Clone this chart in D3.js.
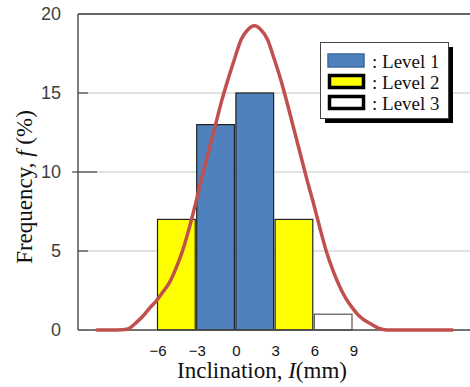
<!DOCTYPE html>
<html><head><meta charset="utf-8">
<script src="https://cdn.jsdelivr.net/npm/d3@7"></script>
<style>
body{margin:0;background:#fff}svg{display:block}
.serif{font-family:"Liberation Serif","Times New Roman",Times,serif}
.sans{font-family:"Liberation Sans",Arial,Helvetica,sans-serif}
</style>
</head><body>
<script>
// Data
const binStarts = [-6, -3, 0, 3, 6];
const binWidth = 3;
const frequencies = [7, 13, 15, 7, 1];
const levels = ["Level 2", "Level 1", "Level 1", "Level 2", "Level 3"];
const legendLabels = ["Level 1", "Level 2", "Level 3"];
const xTicks = [-6, -3, 0, 3, 6, 9];
const yTicks = [0, 5, 10, 15, 20];
const curveX = [-10.6, -9.05, -8.3, -7.55, -7.0, -6.55, -6.05, -5.55, -5.05, -4.55, -4.05, -3.55, -3.05, -2.55, -2.05, -1.55, -1.05, -0.55, -0.05, 0.45, 0.95, 1.45, 1.95, 2.45, 2.95, 3.45, 3.95, 4.45, 4.95, 5.45, 5.95, 6.45, 6.95, 7.45, 7.95, 8.45, 8.95, 9.45, 10.45, 11.0, 11.6, 13, 16.6];
const curveY = [0, 0, 0.05, 0.5, 0.95, 1.4, 1.85, 2.4, 3.0, 3.9, 5.0, 6.4, 8.0, 9.7, 11.3, 12.9, 14.5, 15.9, 17.2, 18.4, 19.0, 19.25, 19.0, 18.4, 17.2, 15.9, 14.4, 12.8, 11.2, 9.6, 8.1, 6.5, 5.0, 3.8, 2.8, 2.0, 1.4, 0.9, 0.35, 0.1, 0, 0, 0];

const W = 470, H = 387;
const colors = {"Level 1": "#4f81bd", "Level 2": "#ffff00", "Level 3": "#ffffff"};

const svg = d3.select("body").append("svg").attr("width", W).attr("height", H);
const x = d3.scaleLinear().domain([-6, 9]).range([157, 353]);
const y = d3.scaleLinear().domain([0, 20]).range([330, 14]);
const left = 78, right = 470;

// gridlines
svg.append("g").selectAll("line").data(yTicks.filter(d => d > 0 && d < 20)).join("line")
  .attr("x1", left).attr("x2", right).attr("y1", d => y(d)).attr("y2", d => y(d))
  .attr("stroke", "#d9d9d9").attr("stroke-width", 1.5);

// frame
svg.append("line").attr("x1", left).attr("x2", right).attr("y1", y(20)).attr("y2", y(20)).attr("stroke", "#333").attr("stroke-width", 1.5);
svg.append("line").attr("x1", left).attr("x2", left).attr("y1", y(20)).attr("y2", y(0)).attr("stroke", "#555").attr("stroke-width", 1.5);

// y tick marks
svg.append("g").selectAll("line").data([5, 10, 15]).join("line")
  .attr("x1", d => d === 10 ? left - 6 : left).attr("x2", d => d === 10 ? left + 19 : left + 10)
  .attr("y1", d => y(d)).attr("y2", d => y(d)).attr("stroke", "#444").attr("stroke-width", 1.2);

// y tick labels
svg.append("g").selectAll("text").data(yTicks).join("text").attr("class", "sans")
  .attr("x", 61).attr("y", d => y(d)).attr("dy", "0.36em").attr("text-anchor", "end")
  .attr("font-size", 18).attr("fill", "#404040")
  .text(d => d);

// bars
svg.append("g").selectAll("rect").data(binStarts).join("rect")
  .attr("x", d => x(d) + 0.5).attr("width", d => x(d + binWidth) - x(d) - 1.5)
  .attr("y", (d, i) => y(frequencies[i])).attr("height", (d, i) => y(0) - y(frequencies[i]))
  .attr("fill", (d, i) => colors[levels[i]])
  .attr("stroke", (d, i) => levels[i] === "Level 3" ? "#555" : "#222").attr("stroke-width", 1.2);

// x axis line
svg.append("line").attr("x1", left).attr("x2", right).attr("y1", y(0)).attr("y2", y(0)).attr("stroke", "#444").attr("stroke-width", 1.5);

// fit curve
const line = d3.line().x(d => x(d[0])).y(d => y(d[1])).curve(d3.curveMonotoneX);
svg.append("path").datum(curveX.map((v, i) => [v, curveY[i]]))
  .attr("d", line).attr("fill", "none").attr("stroke", "#c0504d").attr("stroke-width", 3.5).attr("stroke-linecap", "round");

// x tick labels
svg.append("g").selectAll("text").data(xTicks).join("text").attr("class", "sans")
  .attr("x", d => x(d) + 1).attr("y", 356).attr("text-anchor", "middle")
  .attr("font-size", 15).attr("fill", "#111")
  .text(d => d < 0 ? "\u2212" + Math.abs(d) : d);

// x title
const xt = svg.append("text").attr("class", "serif").attr("x", 262).attr("y", 378).attr("text-anchor", "middle")
  .attr("font-size", 23).attr("fill", "#111");
xt.append("tspan").text("Inclination, ");
xt.append("tspan").attr("font-style", "italic").text("I");
xt.append("tspan").text("(mm)");

// y title
const yt = svg.append("text").attr("class", "serif").attr("transform", "translate(32,187) rotate(-90)").attr("text-anchor", "middle")
  .attr("font-size", 23).attr("fill", "#111");
yt.append("tspan").text("Frequency, ");
yt.append("tspan").attr("font-style", "italic").text("f");
yt.append("tspan").text(" (%)");

// legend
const lg = svg.append("g");
lg.append("rect").attr("x", 325).attr("y", 47).attr("width", 128).attr("height", 76).attr("fill", "#000");
lg.append("rect").attr("x", 320.5).attr("y", 42.5).attr("width", 128).attr("height", 76).attr("fill", "#fff").attr("stroke", "#444").attr("stroke-width", 1);
const rows = lg.selectAll("g.row").data(legendLabels).join("g").attr("class", "row")
  .attr("transform", (d, i) => `translate(0,${i * 21})`);
rows.append("rect")
  .attr("x", d => d === "Level 1" ? 328 : 329.5).attr("y", d => d === "Level 1" ? 54 : 54.5)
  .attr("width", d => d === "Level 1" ? 36 : 34).attr("height", d => d === "Level 1" ? 13 : 12)
  .attr("fill", d => colors[d]).attr("stroke", d => d === "Level 1" ? "#3a6aa0" : "#000")
  .attr("stroke-width", d => d === "Level 1" ? 1.5 : 3.5);
rows.append("text").attr("class", "serif").attr("x", 372).attr("y", 68)
  .attr("font-size", 19).attr("fill", "#111")
  .text(d => ": " + d);
</script>
</body></html>
